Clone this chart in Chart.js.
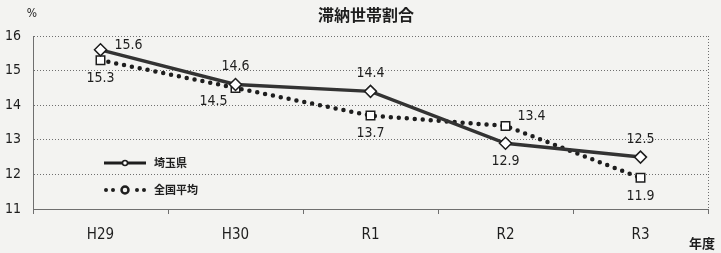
<!DOCTYPE html>
<html>
<head>
<meta charset="utf-8">
<script src="https://cdn.jsdelivr.net/npm/chart.js@4.4.1/dist/chart.umd.min.js"></script>
<style>
  html, body { margin: 0; padding: 0; background: #f3f3f1; }
  #wrap { width: 721px; height: 253px; position: relative; }
</style>
</head>
<body>
<div id="wrap"><canvas id="chart" width="721" height="253"></canvas></div>
<script>
const years = ['H29', 'H30', 'R1', 'R2', 'R3'];
const saitama = [15.6, 14.6, 14.4, 12.9, 12.5];
const national = [15.3, 14.5, 13.7, 13.4, 11.9];
const yTicks = [11, 12, 13, 14, 15, 16];

// where each value label sits relative to its marker
const saitamaPlace = ['right', 'above', 'above', 'below', 'above'];
const nationalPlace = ['below', 'belowLeft', 'below', 'aboveRight', 'below'];

const FONT = "'DejaVu Sans Condensed', 'Liberation Sans Narrow', 'Liberation Sans', sans-serif";
const JP = "'Noto Sans CJK JP', sans-serif";
const INK = '#1e1e1e';
const GRID = '#6f6f6f';

const extras = {
  id: 'extras',
  afterDraw(chart) {
    const { ctx, chartArea: a } = chart;
    ctx.save();
    ctx.fillStyle = INK;
    ctx.textBaseline = 'middle';
    ctx.textAlign = 'center';
    ctx.font = `bold 16px ${JP}`;
    ctx.fillText('滞納世帯割合', 366, 15);
    ctx.font = `12px ${FONT}`;
    ctx.fillText('%', 32, 14);
    ctx.font = `bold 13px ${JP}`;
    ctx.fillText('年度', 702, 243);

    // right border
    ctx.strokeStyle = GRID;
    ctx.lineWidth = 1;
    ctx.setLineDash([1, 2]);
    ctx.beginPath();
    ctx.moveTo(a.right + 0.5, a.top);
    ctx.lineTo(a.right + 0.5, a.bottom);
    ctx.stroke();
    ctx.setLineDash([]);

    // value labels
    ctx.font = `14px ${FONT}`;
    const labelSet = (idx, places) => {
      const meta = chart.getDatasetMeta(idx);
      const values = chart.data.datasets[idx].data;
      meta.data.forEach((pt, i) => {
        let x = pt.x, y = pt.y;
        const p = places[i];
        if (p === 'right') { x += 28; y -= 4; }
        else if (p === 'above') { y -= 18; }
        else if (p === 'below') { y += 18; }
        else if (p === 'belowLeft') { x -= 22; y += 13; }
        else if (p === 'aboveRight') { x += 26; y -= 10; }
        ctx.fillText(values[i].toFixed(1), x, y);
      });
    };
    labelSet(0, saitamaPlace);
    labelSet(1, nationalPlace);

    // legend
    const lx = 104, ly1 = 163, ly2 = 190;
    ctx.strokeStyle = INK;
    ctx.lineWidth = 3;
    ctx.beginPath();
    ctx.moveTo(lx, ly1); ctx.lineTo(lx + 42, ly1);
    ctx.stroke();
    ctx.fillStyle = '#fff';
    ctx.lineWidth = 1.5;
    ctx.beginPath();
    ctx.arc(lx + 21, ly1, 2.5, 0, Math.PI * 2);
    ctx.fill(); ctx.stroke();

    ctx.fillStyle = INK;
    [lx + 2, lx + 9, lx + 33, lx + 40].forEach((dx) => {
      ctx.beginPath(); ctx.arc(dx, ly2, 2, 0, Math.PI * 2); ctx.fill();
    });
    ctx.lineWidth = 2.5;
    ctx.beginPath(); ctx.arc(lx + 21, ly2, 3.5, 0, Math.PI * 2); ctx.stroke();

    ctx.fillStyle = INK;
    ctx.textAlign = 'left';
    ctx.font = `bold 11px ${JP}`;
    ctx.fillText('埼玉県', lx + 50, ly1);
    ctx.fillText('全国平均', lx + 50, ly2);
    ctx.restore();
  }
};

new Chart(document.getElementById('chart'), {
  type: 'line',
  data: {
    labels: years,
    datasets: [
      {
        label: '埼玉県',
        data: saitama,
        borderColor: '#333',
        borderWidth: 3.5,
        pointStyle: 'rectRot',
        pointRadius: 6,
        pointBorderWidth: 1.5,
        pointBackgroundColor: '#fff',
        pointBorderColor: INK,
        tension: 0
      },
      {
        label: '全国平均',
        data: national,
        borderColor: INK,
        borderWidth: 4.5,
        borderDash: [0, 8],
        borderCapStyle: 'round',
        pointStyle: 'rect',
        pointRadius: 6,
        pointBorderWidth: 1.5,
        pointBackgroundColor: '#fff',
        pointBorderColor: INK,
        tension: 0
      }
    ]
  },
  options: {
    responsive: false,
    animation: false,
    layout: { padding: { left: 0, right: 13, top: 36, bottom: 0 } },
    plugins: { legend: { display: false }, tooltip: { enabled: false } },
    scales: {
      x: {
        offset: true,
        afterFit(scale) { scale.height = 44; },
        grid: { offset: true, drawOnChartArea: false, tickLength: 5, color: GRID },
        border: { color: GRID, dash: [1, 2] },
        ticks: { color: INK, padding: 12, font: { family: FONT, size: 15 } }
      },
      y: {
        min: 11,
        max: 16,
        afterFit(scale) { scale.width = 33; },
        afterBuildTicks(scale) { scale.ticks = yTicks.map((v) => ({ value: v })); },
        grid: { color: GRID, drawTicks: false },
        border: { color: GRID, dash: [1, 2] },
        ticks: { color: INK, padding: 12, font: { family: FONT, size: 14 } }
      }
    }
  },
  plugins: [extras]
});
</script>
</body>
</html>
